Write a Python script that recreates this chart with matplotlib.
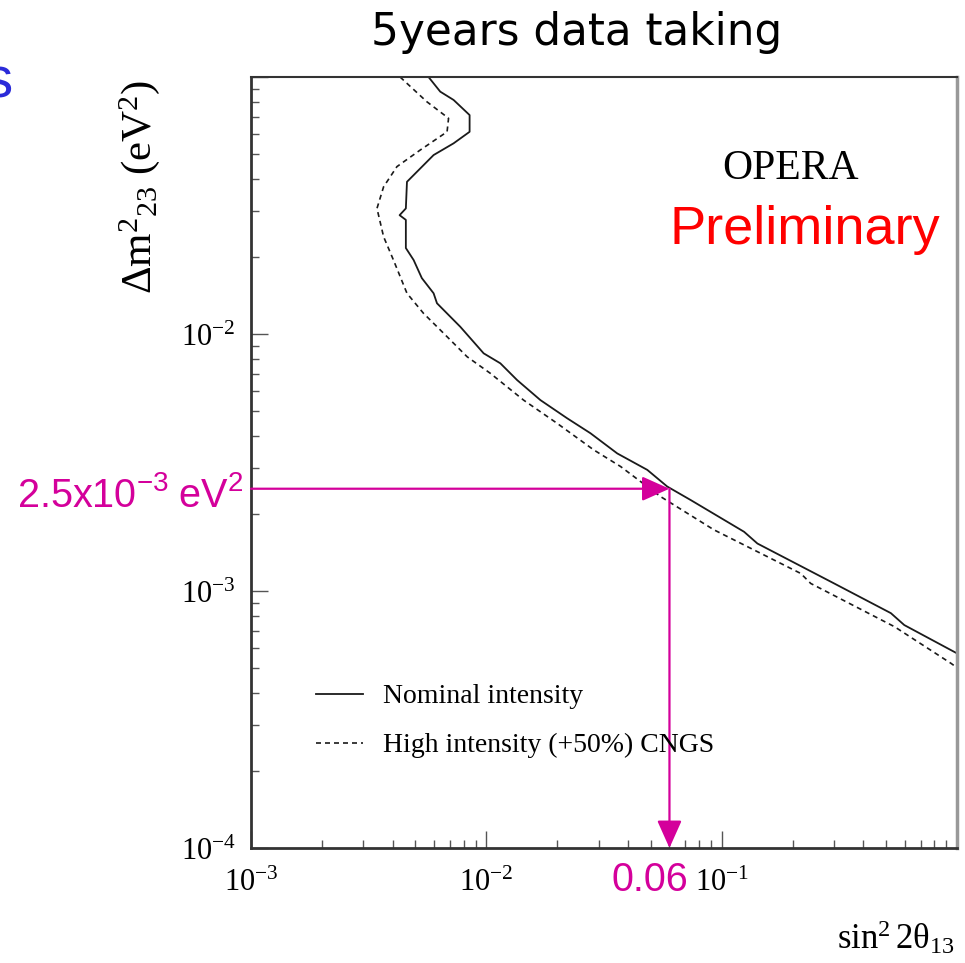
import matplotlib
matplotlib.use("Agg")
import matplotlib.pyplot as plt
from matplotlib.ticker import FixedLocator, FixedFormatter, LogLocator, NullFormatter

# ── data (sin^2 2theta13 vs dm^2_23) ──
nominal_x = [0.00568, 0.00637, 0.00726, 0.00849, 0.00849, 0.00726, 0.00597, 0.0046,
             0.00455, 0.00428, 0.00455, 0.00455, 0.00491, 0.00532, 0.00597, 0.00617,
             0.00775, 0.00974, 0.01147, 0.01351, 0.01698, 0.02205, 0.0277, 0.036,
             0.0483, 0.0587, 0.0738, 0.1245, 0.1419, 0.3006, 0.5236, 0.597, 1.0]
nominal_y = [0.1, 0.0877, 0.0814, 0.0711, 0.0612, 0.0552, 0.0497, 0.0391,
             0.0308, 0.0290, 0.0278, 0.0216, 0.0194, 0.0165, 0.0144, 0.01317,
             0.01067, 0.00841, 0.00769, 0.00662, 0.00553, 0.0047, 0.00411, 0.00343,
             0.00296, 0.00255, 0.00226, 0.0017, 0.00153, 0.00107, 0.00082, 0.000737, 0.000572]

high_x = [0.0043, 0.00559, 0.00691, 0.00681, 0.00524, 0.00417, 0.00366, 0.00343,
          0.00366, 0.00403, 0.0046, 0.00541, 0.00681, 0.00828, 0.0104, 0.0144,
          0.02, 0.0286, 0.0372, 0.055, 0.0927, 0.2169, 0.239, 0.5428, 0.943, 1.0]
high_y = [0.1, 0.0801, 0.0691, 0.0612, 0.052, 0.0448, 0.0374, 0.0308,
          0.0239, 0.0194, 0.0144, 0.01203, 0.00976, 0.00816, 0.00703, 0.00553,
          0.00449, 0.00354, 0.00305, 0.00233, 0.00173, 0.00117, 0.00107, 0.000726,
          0.000523, 0.000503]

series_labels = ["Nominal intensity", "High intensity (+50%) CNGS"]

x_major = [1e-3, 1e-2, 1e-1, 1.0]
x_tick_labels = [r"$10^{-3}$", r"$10^{-2}$", r"$10^{-1}$", ""]
y_major = [1e-4, 1e-3, 1e-2, 1e-1]
y_tick_labels = [r"$10^{-4}$", r"$10^{-3}$", r"$10^{-2}$", ""]

x_mark = 0.06
y_mark = 2.5e-3

MAGENTA = "#d4009b"

plt.rcParams["mathtext.fontset"] = "custom"
plt.rcParams["mathtext.rm"] = "Liberation Serif"
plt.rcParams["mathtext.it"] = "Liberation Serif:italic"
plt.rcParams["mathtext.bf"] = "Liberation Serif:bold"
plt.rcParams["mathtext.sf"] = "Liberation Sans"

W, H = 965, 963
fig = plt.figure(figsize=(W / 100, H / 100), dpi=100)
fig.patch.set_facecolor("white")
ax = fig.add_axes([251 / W, 1 - 848 / H, (957 - 251) / W, (848 - 77) / H])
ax.set_xscale("log")
ax.set_yscale("log")
ax.set_xlim(1e-3, 1.0)
ax.set_ylim(1e-4, 1e-1)

ax.plot(nominal_x, nominal_y, color="#1a1a1a", lw=1.3, label=series_labels[0])
ax.plot(high_x, high_y, color="#1a1a1a", lw=1.2, ls=(0, (3, 2.4)), label=series_labels[1])

# ticks, ROOT style
ax.xaxis.set_major_locator(FixedLocator(x_major))
ax.xaxis.set_major_formatter(FixedFormatter(x_tick_labels))
ax.yaxis.set_major_locator(FixedLocator(y_major))
ax.yaxis.set_major_formatter(FixedFormatter(y_tick_labels))
for axis in (ax.xaxis, ax.yaxis):
    axis.set_minor_locator(LogLocator(base=10, subs=range(2, 10), numticks=20))
    axis.set_minor_formatter(NullFormatter())
ax.tick_params(which="both", direction="in", top=False, right=False, color="#555555")
ax.tick_params(which="major", length=12, width=1.0, labelsize=22)
ax.tick_params(which="minor", length=6, width=1.0)
ax.tick_params(axis="x", which="major", pad=14)
ax.tick_params(axis="y", which="major", pad=11)

for side in ("left", "bottom"):
    ax.spines[side].set_color("#333333")
    ax.spines[side].set_linewidth(2)
ax.spines["top"].set_color("#333333")
ax.spines["top"].set_linewidth(1.5)
ax.spines["right"].set_color("#999999")
ax.spines["right"].set_linewidth(2.5)

leg = ax.legend(loc="upper left", bbox_to_anchor=(302 / W, 1 - 670 / H),
                bbox_transform=fig.transFigure, frameon=False, borderpad=0,
                prop={"family": "Liberation Serif", "size": 20},
                handlelength=1.7, handletextpad=0.72, labelspacing=0.85)

# axis titles
fig.text(140 / W, 1 - 80 / H, r"$\mathrm{\Delta m^{2}{}_{23}\ (eV^{2})}$",
         rotation=90, ha="center", va="top", fontsize=31)
fig.text(955 / W, 1 - 937 / H, r"$\mathrm{sin^{2}\,2θ_{13}}$",
         ha="right", va="center", fontsize=25)

# magenta markers
arrow = dict(arrowstyle="-|>,head_length=0.85,head_width=0.38", color=MAGENTA,
             lw=1.6, shrinkA=0, shrinkB=0, mutation_scale=20)
ax.annotate("", xy=(x_mark, y_mark), xytext=(1e-3, y_mark),
            arrowprops=arrow, annotation_clip=False)
ax.annotate("", xy=(x_mark, 1e-4), xytext=(x_mark, y_mark),
            arrowprops=arrow, annotation_clip=False)
ax.annotate(r"$\mathdefault{2.5x10^{-3}\ eV^{2}}$", xy=(1e-3, y_mark),
            xytext=(-8, -18), textcoords="offset pixels", ha="right", va="baseline",
            color=MAGENTA, fontsize=28.5, family="Liberation Sans", annotation_clip=False)
ax.annotate("0.06", xy=(x_mark, 1e-4), xytext=(-20, -32), textcoords="offset pixels",
            ha="center", va="center", color=MAGENTA, fontsize=28.5,
            family="Liberation Sans", annotation_clip=False)

# annotations
fig.text(791 / W, 1 - 179 / H, "OPERA", ha="center", va="baseline",
         fontsize=30, family="Liberation Serif")
fig.text(670 / W, 1 - 244 / H, "Preliminary", ha="left", va="baseline",
         fontsize=39, color="red", family="Liberation Sans")
fig.text(577 / W, 1 - 45 / H, "5years data taking", ha="center", va="baseline",
         fontsize=31.5, family="DejaVu Sans")
# fragment of a slide word that runs off the left edge in the reference
fig.text(13 / W, 1 - 97 / H, "s", ha="right", va="baseline", fontsize=42,
         color="#2b2bd9", family="Liberation Sans")

fig.savefig("out.png", dpi=100, facecolor="white")
